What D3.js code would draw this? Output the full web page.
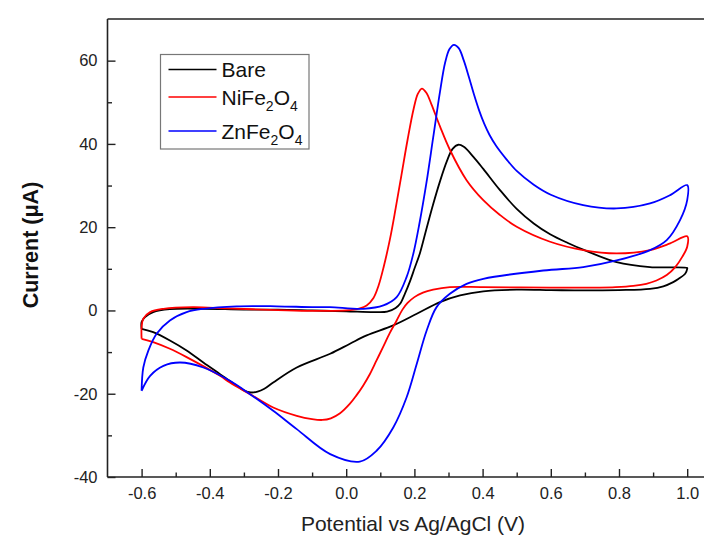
<!DOCTYPE html>
<html>
<head>
<meta charset="utf-8">
<script src="https://cdn.jsdelivr.net/npm/d3@7"></script>
<style>
  body { margin: 0; overflow: hidden; background: #fff; }
  text { font-family: "Liberation Sans", Arial, sans-serif; }
</style>
</head>
<body>
<div id="chart"></div>
<script>
// Cyclic voltammograms, potential (V) and current (uA), one loop per electrode
const bareV = [-0.6, -0.6, -0.59, -0.566, -0.517, -0.42, -0.3, -0.2, -0.1, 0.0, 0.08, 0.12, 0.145, 0.158, 0.172, 0.187, 0.2, 0.216, 0.235, 0.255, 0.275, 0.295, 0.312, 0.329, 0.345, 0.373, 0.402, 0.451, 0.5, 0.55, 0.598, 0.65, 0.695, 0.793, 0.891, 1.0,
               1.0, 0.994, 0.975, 0.959, 0.93, 0.891, 0.8, 0.695, 0.6, 0.5, 0.402, 0.334, 0.275, 0.207, 0.138, 0.06, 0.011, -0.047, -0.145, -0.214, -0.24, -0.26, -0.28, -0.3, -0.33, -0.37, -0.419, -0.468, -0.517, -0.566, -0.6];
const bareI = [-4.4, -2.8, -1.6, -0.4, 0.3, 0.4, 0.2, 0.2, 0.0, -0.2, -0.4, -0.3, 0.6, 1.6, 4.0, 7.0, 10.0, 13.7, 19.5, 25.5, 31.0, 35.8, 38.8, 39.8, 39.3, 36.9, 34.0, 28.9, 24.4, 20.9, 18.3, 16.2, 14.6, 11.6, 10.4, 10.2,
               10.0, 8.8, 7.6, 6.8, 5.8, 5.2, 4.9, 4.8, 4.9, 5.0, 4.6, 3.6, 2.0, -0.8, -3.6, -6.0, -8.0, -10.4, -13.7, -17.3, -18.8, -19.5, -19.7, -19.2, -17.6, -15.3, -12.5, -9.6, -7.2, -5.2, -4.4];

const nifeV = [-0.6, -0.6, -0.595, -0.575, -0.536, -0.45, -0.35, -0.2, -0.1, 0.0, 0.04, 0.06, 0.08, 0.095, 0.11, 0.128, 0.145, 0.162, 0.18, 0.198, 0.21, 0.222, 0.235, 0.25, 0.275, 0.304, 0.353, 0.402, 0.45, 0.5, 0.598, 0.695, 0.793, 0.891, 0.95, 1.0,
               1.0, 0.985, 0.965, 0.94, 0.91, 0.88, 0.842, 0.79, 0.744, 0.598, 0.402, 0.304, 0.255, 0.225, 0.2, 0.18, 0.165, 0.148, 0.128, 0.108, 0.089, 0.07, 0.05, 0.03, 0.011, -0.018, -0.045, -0.07, -0.1, -0.145, -0.214, -0.282, -0.341, -0.37, -0.468, -0.517, -0.566, -0.6];
const nifeI = [-6.8, -4.0, -2.0, -0.4, 0.4, 0.8, 0.5, 0.1, -0.1, 0.0, 0.5, 1.2, 3.0, 6.0, 10.5, 17.0, 24.5, 32.5, 41.0, 48.5, 52.0, 53.3, 52.3, 49.5, 44.2, 38.6, 31.3, 26.5, 23.0, 20.1, 16.5, 14.5, 13.7, 14.5, 16.1, 17.8,
               15.3, 12.8, 10.4, 8.5, 7.2, 6.4, 5.9, 5.6, 5.5, 5.5, 5.6, 5.6, 5.0, 4.3, 3.2, 1.8, 0.2, -2.4, -5.4, -8.8, -12.0, -15.2, -18.0, -20.4, -22.4, -24.7, -25.9, -26.3, -26.1, -25.3, -23.3, -20.1, -17.3, -15.7, -11.2, -9.2, -7.6, -6.8];

const znfeV = [-0.6, -0.595, -0.58, -0.556, -0.517, -0.468, -0.419, -0.321, -0.204, -0.1, -0.048, 0.05, 0.109, 0.148, 0.177, 0.197, 0.215, 0.235, 0.255, 0.275, 0.29, 0.303, 0.316, 0.33, 0.345, 0.36, 0.375, 0.39, 0.405, 0.42, 0.44, 0.47, 0.5, 0.55, 0.6, 0.695, 0.793, 0.891, 0.95, 1.0,
               1.0, 0.979, 0.94, 0.891, 0.793, 0.695, 0.578, 0.402, 0.353, 0.304, 0.265, 0.236, 0.207, 0.177, 0.138, 0.089, 0.04, -0.047, -0.145, -0.214, -0.282, -0.341, -0.419, -0.487, -0.536, -0.575, -0.6];
const znfeI = [-19.3, -13.7, -9.6, -5.6, -2.4, -0.4, 0.4, 1.0, 1.0, 0.8, 0.8, 0.4, 1.2, 3.2, 8.0, 13.7, 21.0, 30.5, 41.5, 52.5, 59.5, 62.8, 63.8, 63.0, 60.0, 56.0, 51.8, 48.0, 44.8, 42.2, 39.5, 36.3, 33.5, 30.2, 27.8, 25.3, 24.5, 25.7, 27.7, 30.1,
               26.5, 21.7, 16.9, 14.5, 12.0, 10.4, 9.6, 7.6, 6.4, 4.0, 0.8, -4.8, -12.8, -20.9, -28.1, -33.7, -36.3, -34.5, -28.5, -24.1, -20.1, -16.9, -13.7, -12.5, -13.3, -15.7, -19.3];

const xMajorTicks = [-0.6, -0.4, -0.2, 0.0, 0.2, 0.4, 0.6, 0.8, 1.0];
const xMinorTicks = [-0.5, -0.3, -0.1, 0.1, 0.3, 0.5, 0.7, 0.9];
const yMajorTicks = [-40, -20, 0, 20, 40, 60];
const yMinorTicks = [-30, -10, 10, 30, 50];

const seriesNames = ['Bare', 'NiFe2O4', 'ZnFe2O4'];
const seriesColors = ['#000000', '#ff0000', '#0000ff'];

const WIDTH = 740;
const HEIGHT = 538;
const LEFT = 107.5;
const TOP = 19;
const BOTTOM = 477;

const xScale = d3.scaleLinear().domain([-0.7, 1.1]).range([LEFT, LEFT + 1.8 * 341]);
const yScale = d3.scaleLinear().domain([-40, 70]).range([BOTTOM, TOP]);

const svg = d3.select('#chart')
              .append('svg')
              .attr('width', WIDTH)
              .attr('height', HEIGHT);

// Curves
const series = [
  { name: seriesNames[0], color: seriesColors[0], v: bareV, i: bareI },
  { name: seriesNames[1], color: seriesColors[1], v: nifeV, i: nifeI },
  { name: seriesNames[2], color: seriesColors[2], v: znfeV, i: znfeI }
];

const line = d3.line()
               .x(d => xScale(d[0]))
               .y(d => yScale(d[1]))
               .curve(d3.curveCatmullRom.alpha(0.5));

svg.selectAll('path.cv')
   .data(series)
   .enter()
   .append('path')
   .attr('class', 'cv')
   .attr('d', s => line(s.v.map((v, k) => [v, s.i[k]])))
   .attr('fill', 'none')
   .attr('stroke', s => s.color)
   .attr('stroke-width', 1.8)
   .attr('stroke-linejoin', 'round');

// Frame top line
svg.append('line')
   .attr('x1', LEFT).attr('x2', xScale(1.1))
   .attr('y1', TOP).attr('y2', TOP)
   .attr('stroke', '#222').attr('stroke-width', 1.6);

// x axis (hyphen minus like the original, not the unicode minus)
const xAxis = d3.axisBottom(xScale)
                .tickValues(xMajorTicks)
                .tickSize(-8)
                .tickPadding(10)
                .tickFormat(d => d.toFixed(1));
const gx = svg.append('g')
              .attr('transform', 'translate(0,' + BOTTOM + ')')
              .call(xAxis);
svg.append('g')
   .attr('transform', 'translate(0,' + BOTTOM + ')')
   .call(d3.axisBottom(xScale).tickValues(xMinorTicks).tickSize(-4.5).tickFormat(''))
   .select('.domain').remove();

// y axis
const yAxis = d3.axisLeft(yScale)
                .tickValues(yMajorTicks)
                .tickSize(-8)
                .tickPadding(10)
                .tickFormat(d => String(d));
const gy = svg.append('g')
              .attr('transform', 'translate(' + LEFT + ',0)')
              .call(yAxis);
svg.append('g')
   .attr('transform', 'translate(' + LEFT + ',0)')
   .call(d3.axisLeft(yScale).tickValues(yMinorTicks).tickSize(-4.5).tickFormat(''))
   .select('.domain').remove();

svg.selectAll('.domain').attr('stroke', '#222').attr('stroke-width', 1.6);
svg.selectAll('.tick line').attr('stroke', '#222').attr('stroke-width', 1.4);
svg.selectAll('.tick text')
   .attr('font-family', '"Liberation Sans", Arial, sans-serif')
   .attr('font-size', 16.5)
   .attr('fill', '#222');
gx.select('.domain').attr('d', 'M' + LEFT + ',0H' + xScale(1.1));
gy.select('.domain').attr('d', 'M0,' + BOTTOM + 'V' + TOP);

// Axis titles
svg.append('text')
   .attr('x', 413)
   .attr('y', 531)
   .attr('text-anchor', 'middle')
   .attr('font-size', 21)
   .attr('fill', '#222')
   .text('Potential vs Ag/AgCl (V)');

svg.append('text')
   .attr('transform', 'translate(38,245) rotate(-90)')
   .attr('text-anchor', 'middle')
   .attr('font-size', 21.5)
   .attr('font-weight', 'bold')
   .attr('fill', '#111')
   .text('Current (μA)');

// Legend
const legend = svg.append('g');
legend.append('rect')
      .attr('x', 160.5).attr('y', 54.5)
      .attr('width', 148.5).attr('height', 94.5)
      .attr('fill', '#fff')
      .attr('stroke', '#777')
      .attr('stroke-width', 1.2);

const legendY = [69.5, 97, 131];
const items = legend.selectAll('g.item')
                    .data(series)
                    .enter()
                    .append('g')
                    .attr('class', 'item')
                    .attr('transform', (d, k) => 'translate(0,' + legendY[k] + ')');
items.append('line')
     .attr('x1', 168.5).attr('x2', 216.5)
     .attr('stroke', d => d.color)
     .attr('stroke-width', 1.6);
const labels = items.append('text')
                    .attr('x', 221.5)
                    .attr('y', 7.5)
                    .attr('font-size', 21)
                    .attr('fill', '#111');
labels.each(function(d) {
  const t = d3.select(this);
  const m = d.name.match(/^([A-Za-z]+)(\d)(O)(\d)$/);
  if (!m) { t.text(d.name); return; }
  t.append('tspan').text(m[1]);
  t.append('tspan').attr('font-size', 14).attr('dy', 6).text(m[2]);
  t.append('tspan').attr('dy', -6).text(m[3]);
  t.append('tspan').attr('font-size', 14).attr('dy', 6).text(m[4]);
});
</script>
</body>
</html>
